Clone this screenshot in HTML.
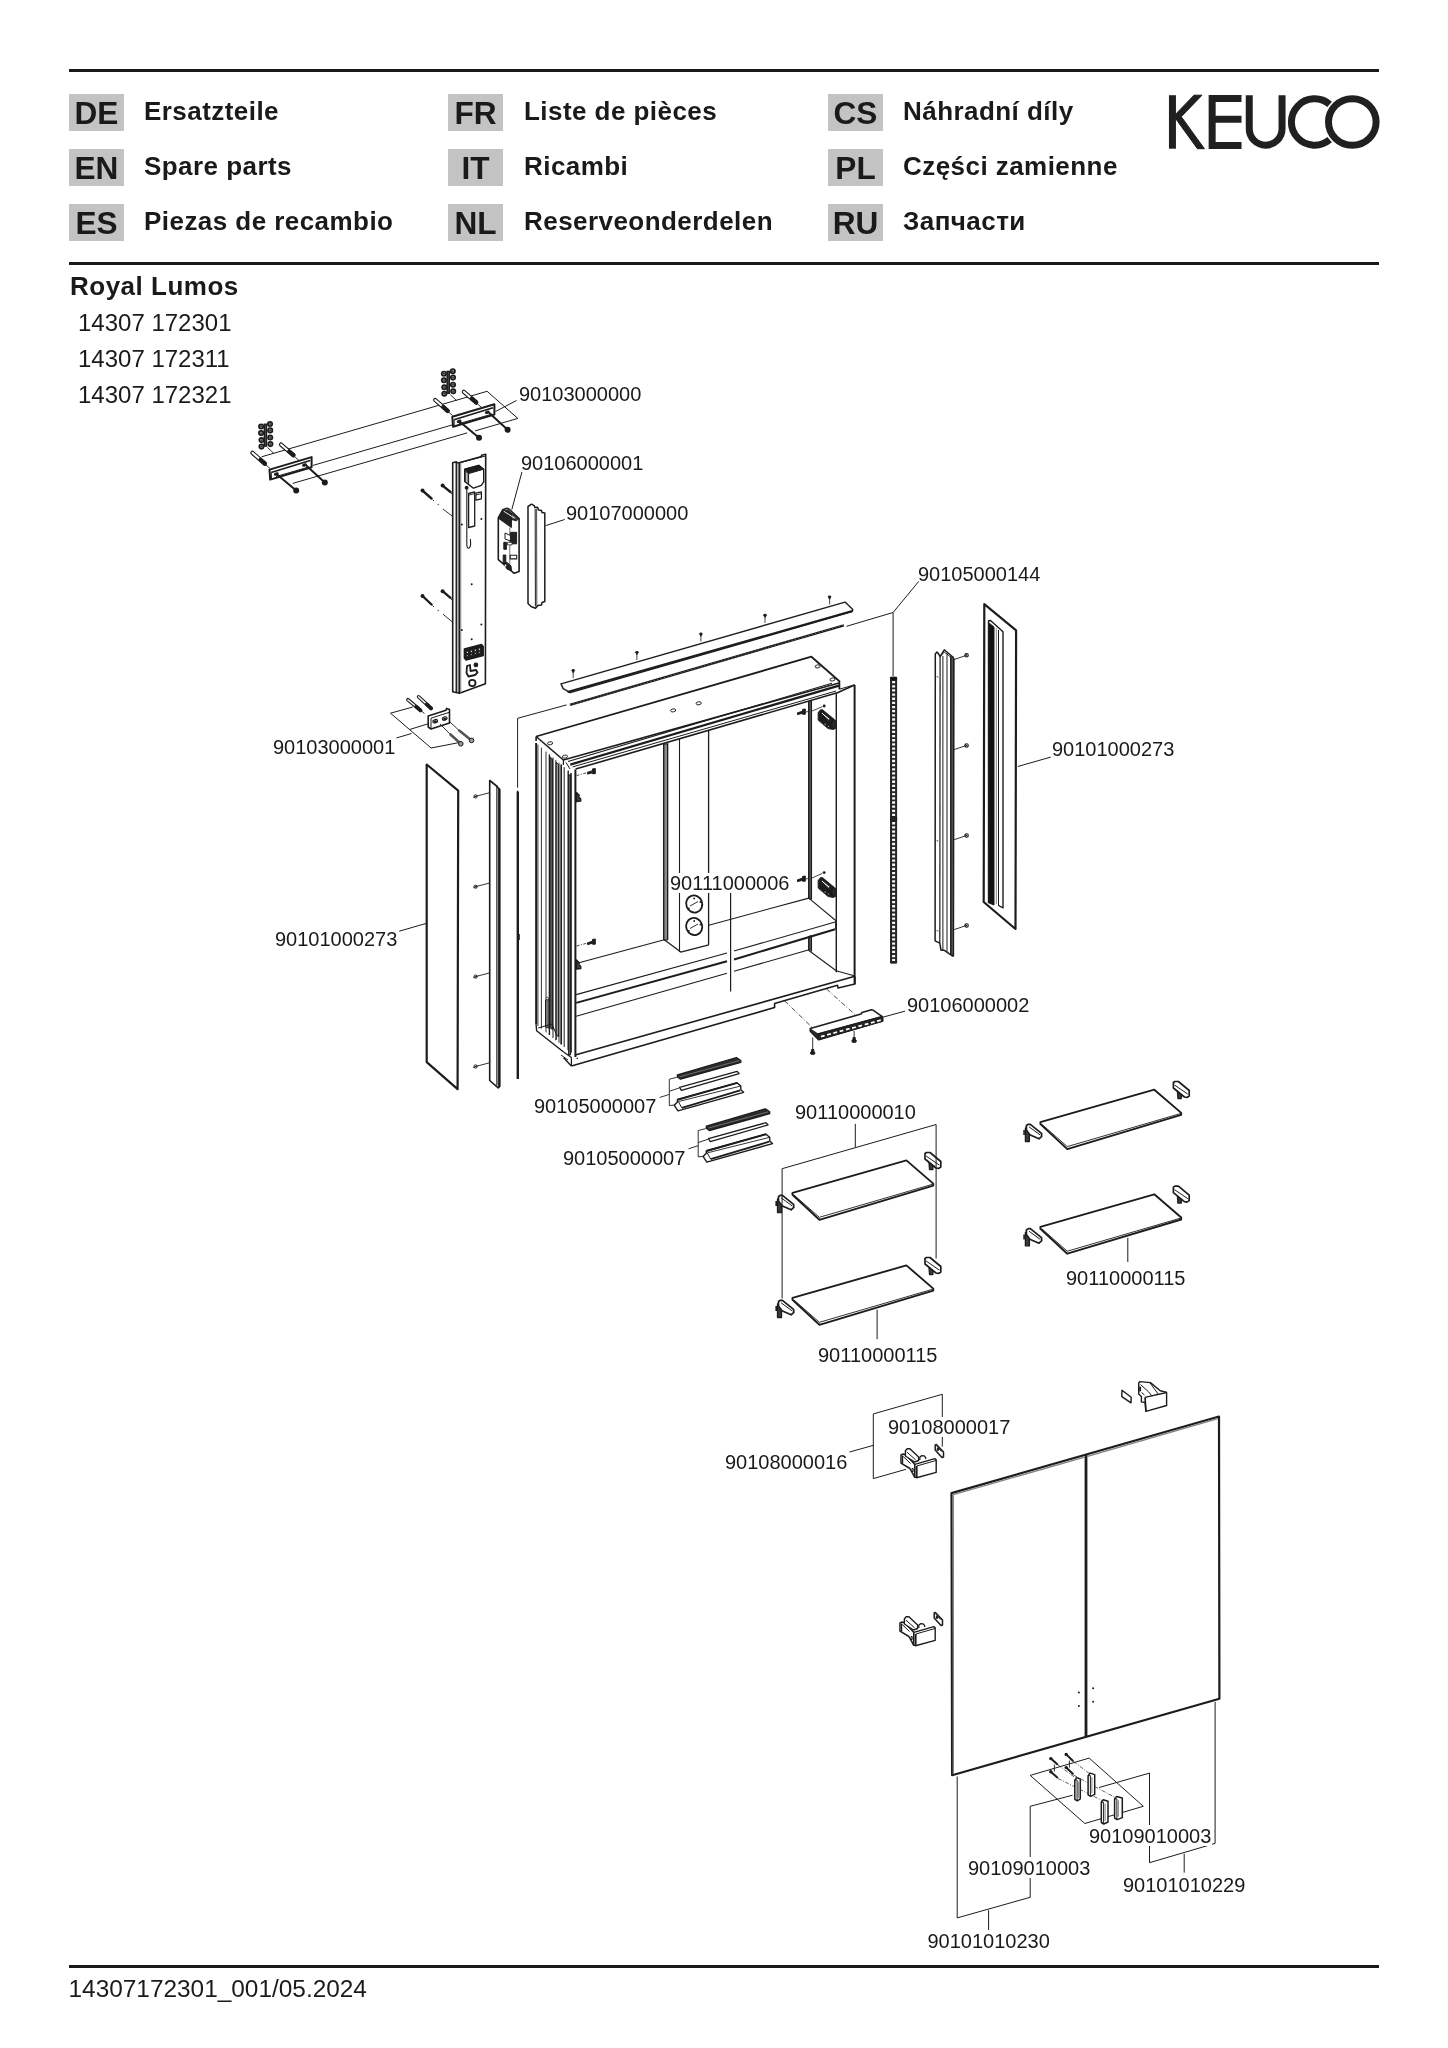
<!DOCTYPE html>
<html><head><meta charset="utf-8">
<style>
html,body{margin:0;padding:0;background:#fff;}
body{width:1448px;height:2048px;position:relative;overflow:hidden;filter:grayscale(1);font-family:"Liberation Sans",sans-serif;color:#1a1a1a;}
.hl{position:absolute;left:69px;width:1310px;height:3px;background:#1a1a1a;}
.box{position:absolute;width:55px;height:37px;background:#c3c3c3;font-weight:bold;font-size:31.6px;line-height:39px;text-align:center;color:#1a1a1a;}
.lt{position:absolute;font-weight:bold;font-size:26px;line-height:30px;letter-spacing:0.45px;white-space:nowrap;}
.t{position:absolute;white-space:nowrap;}
.num{position:absolute;font-size:20px;line-height:20px;white-space:nowrap;color:#1a1a1a;}
svg{position:absolute;left:0;top:0;}
</style></head><body>
<div class="hl" style="top:69px"></div>
<div class="hl" style="top:262px"></div>
<div class="hl" style="top:1965px"></div>

<div class="box" style="left:69px;top:94px">DE</div>
<div class="box" style="left:69px;top:149px">EN</div>
<div class="box" style="left:69px;top:204px">ES</div>
<div class="box" style="left:448px;top:94px">FR</div>
<div class="box" style="left:448px;top:149px">IT</div>
<div class="box" style="left:448px;top:204px">NL</div>
<div class="box" style="left:828px;top:94px">CS</div>
<div class="box" style="left:828px;top:149px">PL</div>
<div class="box" style="left:828px;top:204px">RU</div>

<div class="lt" style="left:144px;top:96px">Ersatzteile</div>
<div class="lt" style="left:144px;top:151px">Spare parts</div>
<div class="lt" style="left:144px;top:206px">Piezas de recambio</div>
<div class="lt" style="left:524px;top:96px">Liste de pièces</div>
<div class="lt" style="left:524px;top:151px">Ricambi</div>
<div class="lt" style="left:524px;top:206px">Reserveonderdelen</div>
<div class="lt" style="left:903px;top:96px">Náhradní díly</div>
<div class="lt" style="left:903px;top:151px">Części zamienne</div>
<div class="lt" style="left:903px;top:206px">Запчасти</div>

<div class="t" style="left:70px;top:271px;font-weight:bold;font-size:26px;letter-spacing:0.5px;">Royal Lumos</div>
<div class="t" style="left:78px;top:309px;font-size:24px;">14307 172301</div>
<div class="t" style="left:78px;top:345px;font-size:24px;">14307 172311</div>
<div class="t" style="left:78px;top:381px;font-size:24px;">14307 172321</div>

<div class="t" style="left:68.5px;top:1975px;font-size:24.4px;">14307172301_001/05.2024</div>

<!-- DRAWING START -->
<svg width="1448" height="2048" viewBox="0 0 1448 2048" style="position:absolute;left:0;top:0" stroke="#1c1c1c" stroke-linejoin="round">
<line x1="261.6" y1="456.8" x2="487.1" y2="391.3" stroke-width="1.0" />
<line x1="487.1" y1="391.3" x2="517.8" y2="418.4" stroke-width="1.0" />
<line x1="292.7" y1="483.4" x2="467.2" y2="432.9" stroke-width="1.0" />
<line x1="475.1" y1="430.9" x2="517.8" y2="418.4" stroke-width="1.0" />
<line x1="313.0" y1="465.4" x2="452.0" y2="425.0" stroke-width="1.0" />
<line x1="495.5" y1="411.5" x2="516.5" y2="400.5" stroke-width="1.0" />
<rect x="263.6" y="423.5" width="3.6" height="23.3" fill="#1c1c1c" stroke="none"/>
<line x1="265.5" y1="424.5" x2="265.5" y2="445.5" stroke-width="0.6" stroke="#666"/>
<circle cx="261.1" cy="426.5" r="2.2" stroke-width="1.7" fill="#8a8a8a" />
<circle cx="261.1" cy="426.5" r="0.7" stroke-width="0" fill="#1c1c1c" />
<circle cx="261.1" cy="433.1" r="2.2" stroke-width="1.7" fill="#8a8a8a" />
<circle cx="261.1" cy="433.1" r="0.7" stroke-width="0" fill="#1c1c1c" />
<circle cx="261.5" cy="440.1" r="2.2" stroke-width="1.7" fill="#8a8a8a" />
<circle cx="261.5" cy="440.1" r="0.7" stroke-width="0" fill="#1c1c1c" />
<circle cx="261.5" cy="446.6" r="2.2" stroke-width="1.7" fill="#8a8a8a" />
<circle cx="261.5" cy="446.6" r="0.7" stroke-width="0" fill="#1c1c1c" />
<circle cx="270.0" cy="424.0" r="2.2" stroke-width="1.7" fill="#8a8a8a" />
<circle cx="270.0" cy="424.0" r="0.7" stroke-width="0" fill="#1c1c1c" />
<circle cx="270.2" cy="430.4" r="2.2" stroke-width="1.7" fill="#8a8a8a" />
<circle cx="270.2" cy="430.4" r="0.7" stroke-width="0" fill="#1c1c1c" />
<circle cx="270.2" cy="437.5" r="2.2" stroke-width="1.7" fill="#8a8a8a" />
<circle cx="270.2" cy="437.5" r="0.7" stroke-width="0" fill="#1c1c1c" />
<circle cx="270.4" cy="444.1" r="2.2" stroke-width="1.7" fill="#8a8a8a" />
<circle cx="270.4" cy="444.1" r="0.7" stroke-width="0" fill="#1c1c1c" />
<line x1="267.5" y1="447.5" x2="274.0" y2="453.5" stroke-width="0.9" />
<line x1="252.4" y1="452.8" x2="264.8" y2="463.6" stroke-width="4.2" stroke-linecap="round"/>
<line x1="252.4" y1="452.8" x2="264.8" y2="463.6" stroke-width="2.0" stroke="#fff" stroke-linecap="round"/>
<line x1="260.5" y1="459.8" x2="264.8" y2="463.6" stroke-width="4.2" stroke-linecap="round"/>
<line x1="281.0" y1="444.6" x2="293.4" y2="455.2" stroke-width="4.2" stroke-linecap="round"/>
<line x1="281.0" y1="444.6" x2="293.4" y2="455.2" stroke-width="2.0" stroke="#fff" stroke-linecap="round"/>
<line x1="289.1" y1="451.5" x2="293.4" y2="455.2" stroke-width="4.2" stroke-linecap="round"/>
<line x1="266.0" y1="465.0" x2="270.0" y2="468.5" stroke-width="0.9" />
<line x1="294.5" y1="456.5" x2="299.0" y2="460.5" stroke-width="0.9" />
<polygon points="269.5,469.6 311.6,457.1 311.6,467.3 270.2,479.6" stroke-width="2.0" fill="#fff" />
<line x1="271.2" y1="472.6" x2="310.2" y2="460.6" stroke-width="1.6" />
<line x1="276.0" y1="476.5" x2="309.0" y2="467.0" stroke-width="1.0" />
<line x1="271.2" y1="472.6" x2="271.5" y2="478.5" stroke-width="1.0" />
<ellipse cx="276.3" cy="474.0" rx="2" ry="1.1" transform="rotate(-16 276.3 474.0)" fill="#1c1c1c"/>
<ellipse cx="304.5" cy="465.0" rx="2" ry="1.1" transform="rotate(-16 304.5 465.0)" fill="#1c1c1c"/>
<line x1="277.0" y1="474.5" x2="296.2" y2="490.6" stroke-width="2.0" stroke-linecap="round"/>
<circle cx="296.2" cy="490.6" r="3.0" stroke-width="0" fill="#1c1c1c" />
<line x1="306.5" y1="465.8" x2="324.8" y2="482.6" stroke-width="2.0" stroke-linecap="round"/>
<circle cx="324.8" cy="482.6" r="3.0" stroke-width="0" fill="#1c1c1c" />
<rect x="446.4" y="370.7" width="3.6" height="23.3" fill="#1c1c1c" stroke="none"/>
<line x1="448.3" y1="371.7" x2="448.3" y2="392.7" stroke-width="0.6" stroke="#666"/>
<circle cx="443.9" cy="373.7" r="2.2" stroke-width="1.7" fill="#8a8a8a" />
<circle cx="443.9" cy="373.7" r="0.7" stroke-width="0" fill="#1c1c1c" />
<circle cx="443.9" cy="380.3" r="2.2" stroke-width="1.7" fill="#8a8a8a" />
<circle cx="443.9" cy="380.3" r="0.7" stroke-width="0" fill="#1c1c1c" />
<circle cx="444.3" cy="387.3" r="2.2" stroke-width="1.7" fill="#8a8a8a" />
<circle cx="444.3" cy="387.3" r="0.7" stroke-width="0" fill="#1c1c1c" />
<circle cx="444.3" cy="393.8" r="2.2" stroke-width="1.7" fill="#8a8a8a" />
<circle cx="444.3" cy="393.8" r="0.7" stroke-width="0" fill="#1c1c1c" />
<circle cx="452.8" cy="371.2" r="2.2" stroke-width="1.7" fill="#8a8a8a" />
<circle cx="452.8" cy="371.2" r="0.7" stroke-width="0" fill="#1c1c1c" />
<circle cx="453.0" cy="377.6" r="2.2" stroke-width="1.7" fill="#8a8a8a" />
<circle cx="453.0" cy="377.6" r="0.7" stroke-width="0" fill="#1c1c1c" />
<circle cx="453.0" cy="384.7" r="2.2" stroke-width="1.7" fill="#8a8a8a" />
<circle cx="453.0" cy="384.7" r="0.7" stroke-width="0" fill="#1c1c1c" />
<circle cx="453.2" cy="391.3" r="2.2" stroke-width="1.7" fill="#8a8a8a" />
<circle cx="453.2" cy="391.3" r="0.7" stroke-width="0" fill="#1c1c1c" />
<line x1="450.3" y1="394.7" x2="456.8" y2="400.7" stroke-width="0.9" />
<line x1="435.2" y1="400.0" x2="447.6" y2="410.8" stroke-width="4.2" stroke-linecap="round"/>
<line x1="435.2" y1="400.0" x2="447.6" y2="410.8" stroke-width="2.0" stroke="#fff" stroke-linecap="round"/>
<line x1="443.3" y1="407.0" x2="447.6" y2="410.8" stroke-width="4.2" stroke-linecap="round"/>
<line x1="463.8" y1="391.8" x2="476.2" y2="402.4" stroke-width="4.2" stroke-linecap="round"/>
<line x1="463.8" y1="391.8" x2="476.2" y2="402.4" stroke-width="2.0" stroke="#fff" stroke-linecap="round"/>
<line x1="471.9" y1="398.7" x2="476.2" y2="402.4" stroke-width="4.2" stroke-linecap="round"/>
<line x1="448.8" y1="412.2" x2="452.8" y2="415.7" stroke-width="0.9" />
<line x1="477.3" y1="403.7" x2="481.8" y2="407.7" stroke-width="0.9" />
<polygon points="452.3,416.8 494.4,404.3 494.4,414.5 453.0,426.8" stroke-width="2.0" fill="#fff" />
<line x1="454.0" y1="419.8" x2="493.0" y2="407.8" stroke-width="1.6" />
<line x1="458.8" y1="423.7" x2="491.8" y2="414.2" stroke-width="1.0" />
<line x1="454.0" y1="419.8" x2="454.3" y2="425.7" stroke-width="1.0" />
<ellipse cx="459.1" cy="421.2" rx="2" ry="1.1" transform="rotate(-16 459.1 421.2)" fill="#1c1c1c"/>
<ellipse cx="487.3" cy="412.2" rx="2" ry="1.1" transform="rotate(-16 487.3 412.2)" fill="#1c1c1c"/>
<line x1="459.8" y1="421.7" x2="479.0" y2="437.8" stroke-width="2.0" stroke-linecap="round"/>
<circle cx="479.0" cy="437.8" r="3.0" stroke-width="0" fill="#1c1c1c" />
<line x1="489.3" y1="413.0" x2="507.6" y2="429.8" stroke-width="2.0" stroke-linecap="round"/>
<circle cx="507.6" cy="429.8" r="3.0" stroke-width="0" fill="#1c1c1c" />
<polygon points="452.7,462.8 456.5,461.8 456.5,463.5 481.5,456.5 481.5,455.2 485.7,454.2 485.4,683.8 459.5,693.2 452.7,691.8" stroke-width="1.6" fill="#fff" />
<rect x="456.3" y="463" width="3.3" height="229.5" fill="#b0b0b0"/>
<line x1="456.2" y1="463.5" x2="456.2" y2="692.5" stroke-width="1.0" />
<line x1="459.4" y1="462.8" x2="459.4" y2="693.0" stroke-width="1.6" />
<line x1="460.8" y1="462.4" x2="460.8" y2="692.8" stroke-width="0.8" stroke="#777"/>
<line x1="459.4" y1="462.8" x2="485.5" y2="456.0" stroke-width="1.0" />
<polygon points="464.7,469.2 478.8,465.3 483.7,469.2 483.7,481.9 481.3,485.3 473.4,488.2 464.7,481.4" stroke-width="1.4" fill="#fff" />
<polygon points="464.7,469.2 478.8,465.3 483.7,469.2 468.6,473.6" fill="#1c1c1c" stroke="#1c1c1c" stroke-width="1"/>
<rect x="469.0" y="469.8" width="1" height="0.8" fill="#999"/>
<rect x="472.5" y="468.8" width="1" height="0.8" fill="#999"/>
<rect x="476.0" y="467.8" width="1" height="0.8" fill="#999"/>
<rect x="471.5" y="471.6" width="1" height="0.8" fill="#999"/>
<rect x="475.0" y="470.6" width="1" height="0.8" fill="#999"/>
<rect x="478.5" y="469.6" width="1" height="0.8" fill="#999"/>
<line x1="468.6" y1="473.6" x2="468.6" y2="484.6" stroke-width="1.0" />
<polygon points="465.2,470.5 468.2,473.8 468.2,484 465.2,481.5" fill="#bbb"/>
<circle cx="466.6" cy="487.7" r="1.9" stroke-width="0" fill="#1c1c1c" />
<polygon points="468.6,493.5 474.7,491.8 474.7,526.0 468.6,527.5" stroke-width="1.3" fill="#fff" />
<line x1="468.6" y1="495.2" x2="474.7" y2="493.5" stroke-width="0.9" />
<polygon points="475.9,493.2 481.4,491.8 481.4,498.8 475.9,500.2" stroke-width="1.2" fill="#fff" />
<line x1="475.9" y1="495.0" x2="481.4" y2="493.6" stroke-width="0.9" />
<path d="M466.8,489 L466.8,545 Q467,549 469,548 Q471,547 470.6,543 L470.4,539" stroke-width="1.1" fill="none"/>
<circle cx="461.9" cy="524.5" r="1.0" stroke-width="0" fill="#1c1c1c" />
<circle cx="481.4" cy="519.0" r="1.0" stroke-width="0" fill="#1c1c1c" />
<circle cx="471.7" cy="584.3" r="1.0" stroke-width="0" fill="#1c1c1c" />
<circle cx="461.9" cy="630.1" r="1.0" stroke-width="0" fill="#1c1c1c" />
<circle cx="481.4" cy="624.6" r="1.0" stroke-width="0" fill="#1c1c1c" />
<circle cx="471.7" cy="639.3" r="1.0" stroke-width="0" fill="#1c1c1c" />
<polygon points="464.3,649.0 481.5,644.5 483.3,646.5 483.3,655.5 466.0,660.0 464.3,658.0" stroke-width="1.3" fill="#1c1c1c" />
<rect x="466.3" y="651.2" width="2.2" height="2.2" fill="#fff"/>
<rect x="466.3" y="655.0" width="2.2" height="1.6" fill="#fff"/>
<rect x="470.3" y="650.2" width="2.2" height="2.2" fill="#fff"/>
<rect x="470.3" y="654.0" width="2.2" height="1.6" fill="#fff"/>
<rect x="474.3" y="649.1" width="2.2" height="2.2" fill="#fff"/>
<rect x="474.3" y="652.9" width="2.2" height="1.6" fill="#fff"/>
<rect x="478.3" y="648.1" width="2.2" height="2.2" fill="#fff"/>
<rect x="478.3" y="651.9" width="2.2" height="1.6" fill="#fff"/>
<path d="M467,666 L470,665 L470.5,671 L476,670 L477.5,672.5 L475,675 L468.5,676.5 L466.5,673 Z" stroke-width="1.8" fill="#fff"/>
<circle cx="475.9" cy="664.9" r="1.8" stroke-width="1.1" fill="#1c1c1c" />
<circle cx="472.3" cy="683.0" r="3.2" stroke-width="1.8" fill="#fff" />
<line x1="422.5" y1="490.6" x2="431.5" y2="498.5" stroke-width="2.4" stroke-linecap="round"/>
<circle cx="422.5" cy="490.6" r="2.0" stroke-width="0" fill="#1c1c1c" />
<line x1="442.6" y1="485.6" x2="450.5" y2="492.0" stroke-width="2.4" stroke-linecap="round"/>
<circle cx="442.6" cy="485.6" r="2.0" stroke-width="0" fill="#1c1c1c" />
<line x1="422.5" y1="596.0" x2="431.5" y2="604.5" stroke-width="2.4" stroke-linecap="round"/>
<circle cx="422.5" cy="596.0" r="2.0" stroke-width="0" fill="#1c1c1c" />
<line x1="442.6" y1="591.2" x2="450.5" y2="597.8" stroke-width="2.4" stroke-linecap="round"/>
<circle cx="442.6" cy="591.2" r="2.0" stroke-width="0" fill="#1c1c1c" />
<line x1="432.5" y1="499.5" x2="434.0" y2="501.0" stroke-width="0.9" />
<line x1="443.0" y1="509.0" x2="452.7" y2="516.5" stroke-width="0.9" />
<line x1="451.0" y1="493.0" x2="452.7" y2="494.5" stroke-width="0.9" />
<line x1="432.5" y1="605.5" x2="434.0" y2="607.0" stroke-width="0.9" />
<line x1="443.0" y1="614.2" x2="452.7" y2="622.2" stroke-width="0.9" />
<line x1="451.0" y1="599.0" x2="452.7" y2="600.5" stroke-width="0.9" />
<circle cx="438.2" cy="504.5" r="0.4" stroke-width="0.6" fill="none" />
<circle cx="438.2" cy="610.5" r="0.4" stroke-width="0.6" fill="none" />
<polygon points="498.3,518.0 502.7,509.8 507.0,508.2 509.5,509.5 519.1,518.6 519.1,571.6 514.1,573.3 498.3,559.6" stroke-width="1.6" fill="#fff" />
<polygon points="498.8,518.5 502.9,510.5 508.5,510.2 511.5,513 511.4,527.5" fill="#222"/>
<polygon points="511.5,513 518.6,518.8 516.5,520.8 511.4,519.5" fill="#555"/>
<line x1="503.7" y1="511.2" x2="514.7" y2="518.2" stroke-width="1.0" stroke="#eee"/>
<line x1="509.8" y1="527.5" x2="509.8" y2="570.0" stroke-width="0.9" stroke="#666"/>
<line x1="511.4" y1="519.5" x2="519.1" y2="518.8" stroke-width="1.0" />
<rect x="510.4" y="532.3" width="6.2" height="11.5" fill="#222"/>
<polygon points="505,533 510.4,535.5 510.4,541 505,539" fill="#fff" stroke-width="1.0"/>
<rect x="503.8" y="542.3" width="2.6" height="7" fill="#222"/>
<rect x="507.5" y="542.3" width="4.5" height="2.6" fill="#fff" stroke-width="0.8"/>
<rect x="510.2" y="555.3" width="6.5" height="3.6" fill="#fff" stroke-width="1.1"/>
<rect x="503.2" y="555.0" width="2.6" height="8" fill="#222"/>
<polygon points="503.5,563 507,562.5 511,566 511.5,571 507,569" fill="#222"/>
<circle cx="505.5" cy="565.5" r="0.9" stroke-width="0" fill="#fff" />
<line x1="511.8" y1="509.6" x2="521.9" y2="472.0" stroke-width="1.0" />
<polygon points="528.0,506.5 531.5,504.2 534.2,505.6 534.8,507.5 537.5,507.3 538.5,510.0 541.5,510.5 542.0,512.5 544.8,513.0 544.8,601.5 542.0,602.5 541.5,605.0 538.0,605.5 535.5,608.2 531.0,606.5 528.0,603.5" stroke-width="1.5" fill="#fff" />
<line x1="535.2" y1="509.0" x2="535.4" y2="606.5" stroke-width="1.0" />
<line x1="536.6" y1="509.0" x2="536.8" y2="606.0" stroke-width="0.8" />
<line x1="545.8" y1="525.6" x2="564.7" y2="519.5" stroke-width="1.0" />
<polygon points="561.0,683.9 845.0,602.1 852.8,609.6 852.2,611.6 570.2,692.7 563.2,688.6" stroke-width="1.4" fill="#fff" />
<line x1="567.5" y1="692.0" x2="852.2" y2="611.0" stroke-width="1.9" />
<line x1="569.9" y1="704.9" x2="843.9" y2="625.3" stroke-width="2.4" />
<line x1="569.9" y1="704.9" x2="843.9" y2="625.3" stroke-width="0.7" stroke="#999" stroke-dasharray="1 2.5"/>
<ellipse cx="573.2" cy="670.4" rx="1.7" ry="1.4" fill="#1c1c1c" stroke="none"/><rect x="572.3" y="670.6" width="1.8" height="2.2" fill="#1c1c1c" stroke="none"/>
<line x1="573.2" y1="672.6" x2="573.2" y2="678.1" stroke-width="0.8" />
<ellipse cx="636.9" cy="652.3" rx="1.7" ry="1.4" fill="#1c1c1c" stroke="none"/><rect x="636.0" y="652.5" width="1.8" height="2.2" fill="#1c1c1c" stroke="none"/>
<line x1="636.9" y1="654.5" x2="636.9" y2="660.0" stroke-width="0.8" />
<ellipse cx="700.9" cy="633.9" rx="1.7" ry="1.4" fill="#1c1c1c" stroke="none"/><rect x="700.0" y="634.1" width="1.8" height="2.2" fill="#1c1c1c" stroke="none"/>
<line x1="700.9" y1="636.1" x2="700.9" y2="641.6" stroke-width="0.8" />
<ellipse cx="765.0" cy="615.2" rx="1.7" ry="1.4" fill="#1c1c1c" stroke="none"/><rect x="764.1" y="615.4" width="1.8" height="2.2" fill="#1c1c1c" stroke="none"/>
<line x1="765.0" y1="617.4" x2="765.0" y2="622.9" stroke-width="0.8" />
<ellipse cx="829.6" cy="596.8" rx="1.7" ry="1.4" fill="#1c1c1c" stroke="none"/><rect x="828.7" y="597.0" width="1.8" height="2.2" fill="#1c1c1c" stroke="none"/>
<line x1="829.6" y1="599.0" x2="829.6" y2="604.5" stroke-width="0.8" />
<line x1="566.6" y1="704.9" x2="517.6" y2="718.3" stroke-width="1.0" />
<line x1="517.6" y1="718.3" x2="517.6" y2="787.7" stroke-width="1.0" />
<line x1="846.5" y1="626.3" x2="893.1" y2="612.5" stroke-width="1.0" />
<line x1="893.1" y1="612.5" x2="918.7" y2="581.4" stroke-width="1.0" />
<line x1="893.1" y1="612.5" x2="893.1" y2="676.0" stroke-width="1.0" />
<line x1="517.8" y1="791.6" x2="517.8" y2="1078.9" stroke-width="2.4" />
<line x1="518.5" y1="934.0" x2="518.5" y2="940.0" stroke-width="2.6" />
<polyline points="536.1,736.5 811.4,656.7 839.4,681.3 839.4,689.2" stroke-width="1.8" fill="none" />
<polyline points="536.1,736.5 563.4,760.0 839.0,683.0" stroke-width="1.6" fill="none" />
<line x1="536.1" y1="736.5" x2="536.1" y2="741.0" stroke-width="1.6" />
<ellipse cx="550.1" cy="743.3" rx="2.6" ry="1.5" transform="rotate(-10 550.1 743.3)" stroke-width="0.9" fill="#fff"/>
<ellipse cx="565.0" cy="756.6" rx="2.6" ry="1.5" transform="rotate(-10 565.0 756.6)" stroke-width="0.9" fill="#fff"/>
<ellipse cx="673.2" cy="710.4" rx="2.6" ry="1.5" transform="rotate(-10 673.2 710.4)" stroke-width="0.9" fill="#fff"/>
<ellipse cx="698.7" cy="703.3" rx="2.6" ry="1.5" transform="rotate(-10 698.7 703.3)" stroke-width="0.9" fill="#fff"/>
<ellipse cx="817.7" cy="666.4" rx="2.6" ry="1.5" transform="rotate(-10 817.7 666.4)" stroke-width="0.9" fill="#fff"/>
<ellipse cx="832.5" cy="679.5" rx="2.6" ry="1.5" transform="rotate(-10 832.5 679.5)" stroke-width="0.9" fill="#fff"/>
<line x1="568.0" y1="761.5" x2="832.0" y2="683.2" stroke-width="1.1" />
<line x1="570.3" y1="764.6" x2="839.0" y2="685.6" stroke-width="2.2" />
<line x1="572.6" y1="766.9" x2="836.0" y2="691.0" stroke-width="1.0" />
<line x1="575.6" y1="769.1" x2="836.3" y2="693.1" stroke-width="1.6" />
<line x1="566.0" y1="762.5" x2="570.0" y2="769.0" stroke-width="1.0" />
<line x1="563.4" y1="760.0" x2="563.4" y2="765.0" stroke-width="1.2" />
<line x1="536.1" y1="743.0" x2="536.1" y2="1024.5" stroke-width="1.9" />
<line x1="537.9" y1="744.5" x2="537.9" y2="1025.9" stroke-width="0.9" />
<line x1="541.4" y1="747.6" x2="541.4" y2="1028.7" stroke-width="0.9" />
<line x1="546.0" y1="751.5" x2="546.0" y2="1032.4" stroke-width="0.9" />
<line x1="549.4" y1="754.4" x2="549.4" y2="1035.1" stroke-width="1.4" />
<line x1="553.0" y1="757.5" x2="553.0" y2="1038.0" stroke-width="1.0" />
<line x1="555.8" y1="759.9" x2="555.8" y2="1040.3" stroke-width="0.9" />
<line x1="559.0" y1="762.7" x2="559.0" y2="1042.8" stroke-width="0.9" />
<line x1="561.2" y1="764.6" x2="561.2" y2="1044.6" stroke-width="1.7" />
<line x1="564.2" y1="767.2" x2="564.2" y2="1047.0" stroke-width="1.0" />
<line x1="568.2" y1="770.6" x2="568.2" y2="1050.2" stroke-width="1.4" />
<line x1="571.0" y1="773.0" x2="571.0" y2="1052.4" stroke-width="1.6" />
<line x1="575.4" y1="769.5" x2="575.4" y2="1057.0" stroke-width="2.0" />
<polygon points="549.9,756.9 552.6,759.2 552.6,1029.7 549.9,1027.5" fill="#555"/>
<polygon points="556.2,762.3 558.6,764.4 558.6,1036.5 556.2,1034.6" fill="#9a9a9a"/>
<polygon points="545.5,1000 549,999 549,1028 545.5,1027" fill="#777"/>
<rect x="568.6" y="775" width="2" height="280" fill="#666"/>
<circle cx="547.3" cy="998.5" r="1.3" stroke-width="0.8" fill="#fff" />
<polyline points="536.1,1024.5 536.6,1030.7 563.6,1052.0" stroke-width="1.4" fill="none" />
<polyline points="563.6,1057.8 571.4,1066.1" stroke-width="1.4" fill="none" />
<polyline points="538.0,1028.0 552.0,1024.0 557.0,1036.0 556.0,1040.0" stroke-width="1.0" fill="none" />
<polyline points="563.6,1052.0 571.4,1057.5 571.4,1066.1" stroke-width="1.2" fill="none" />
<line x1="561.0" y1="1055.0" x2="568.0" y2="1060.0" stroke-width="1.0" />
<line x1="836.3" y1="693.1" x2="836.3" y2="972.3" stroke-width="1.4" />
<line x1="854.6" y1="685.0" x2="854.6" y2="984.0" stroke-width="2.0" />
<line x1="836.3" y1="693.3" x2="854.6" y2="685.0" stroke-width="1.6" />
<line x1="839.4" y1="689.2" x2="854.6" y2="684.8" stroke-width="1.0" />
<line x1="808.7" y1="701.0" x2="808.7" y2="899.0" stroke-width="1.3" />
<line x1="811.4" y1="700.2" x2="811.4" y2="899.5" stroke-width="1.3" />
<rect x="809.2" y="701" width="1.8" height="198" fill="#888"/>
<line x1="808.7" y1="936.2" x2="808.7" y2="950.0" stroke-width="1.3" />
<line x1="811.4" y1="935.5" x2="811.4" y2="951.5" stroke-width="1.3" />
<rect x="809.2" y="936" width="1.8" height="14" fill="#888"/>
<rect x="663.8" y="744" width="3.8" height="196" fill="#8a8a8a"/>
<line x1="663.6" y1="743.6" x2="663.6" y2="939.7" stroke-width="1.1" />
<line x1="667.7" y1="742.4" x2="667.7" y2="939.7" stroke-width="1.1" />
<line x1="679.5" y1="738.8" x2="679.5" y2="874.0" stroke-width="1.1" />
<line x1="679.5" y1="891.0" x2="679.5" y2="952.1" stroke-width="1.1" />
<line x1="708.6" y1="730.4" x2="708.6" y2="874.0" stroke-width="1.3" />
<line x1="708.6" y1="891.0" x2="708.6" y2="944.9" stroke-width="1.3" />
<polyline points="664.3,939.7 680.8,952.1 708.8,944.9" stroke-width="1.2" fill="none" />
<ellipse cx="694.2" cy="904.0" rx="8.0" ry="8.6" transform="rotate(-20 694.2 904.0)" stroke-width="1.8" fill="#fff"/>
<circle cx="694.2" cy="898.5" r="0.9" stroke-width="0" fill="#1c1c1c" />
<circle cx="688.8" cy="908.6" r="1.0" stroke-width="0" fill="#1c1c1c" />
<circle cx="700.5" cy="902.0" r="1.0" stroke-width="0" fill="#1c1c1c" />
<line x1="690.0" y1="906.0" x2="698.0" y2="901.5" stroke-width="0.9" />
<ellipse cx="694.2" cy="926.5" rx="8.0" ry="8.6" transform="rotate(-20 694.2 926.5)" stroke-width="1.8" fill="#fff"/>
<circle cx="694.2" cy="921.0" r="0.9" stroke-width="0" fill="#1c1c1c" />
<circle cx="688.8" cy="931.1" r="1.0" stroke-width="0" fill="#1c1c1c" />
<circle cx="700.5" cy="924.5" r="1.0" stroke-width="0" fill="#1c1c1c" />
<line x1="690.0" y1="928.5" x2="698.0" y2="924.0" stroke-width="0.9" />
<line x1="576.2" y1="963.5" x2="664.3" y2="939.7" stroke-width="1.1" />
<line x1="708.8" y1="925.2" x2="808.8" y2="898.1" stroke-width="1.1" />
<line x1="576.2" y1="994.6" x2="727.0" y2="953.0" stroke-width="1.1" />
<line x1="734.0" y1="951.0" x2="835.2" y2="922.0" stroke-width="1.1" />
<line x1="576.2" y1="1002.9" x2="727.0" y2="961.2" stroke-width="2.0" />
<line x1="734.0" y1="959.5" x2="835.2" y2="929.3" stroke-width="2.0" />
<line x1="808.8" y1="898.1" x2="835.7" y2="920.5" stroke-width="1.1" />
<line x1="835.7" y1="920.5" x2="835.7" y2="929.3" stroke-width="1.1" />
<line x1="576.2" y1="1016.3" x2="727.0" y2="973.2" stroke-width="1.1" />
<line x1="734.0" y1="971.2" x2="808.2" y2="950.0" stroke-width="1.1" />
<polyline points="808.2,950.0 836.2,970.8 854.9,976.0" stroke-width="1.1" fill="none" />
<line x1="575.2" y1="1055.0" x2="854.9" y2="976.2" stroke-width="1.6" />
<polyline points="854.9,976.2 854.9,984.0 838.1,988.0 837.5,985.3 774.6,1003.6 774.6,1007.5 571.4,1066.1" stroke-width="1.6" fill="none" />
<line x1="576.5" y1="1058.5" x2="578.0" y2="1058.2" stroke-width="1.2" />
<line x1="730.6" y1="892.0" x2="730.6" y2="991.5" stroke-width="1.2" />
<path d="M587.5,772.3 L592.5,770.7 L592.5,768.9 L595.3,768.5 L595.3,773.7 L592.5,773.7 L592.5,772.8 L587.5,774.1 Z" fill="#1c1c1c"/>
<path d="M587.5,942.8 L592.5,941.2 L592.5,939.4 L595.3,939.0 L595.3,944.2 L592.5,944.2 L592.5,943.3 L587.5,944.6 Z" fill="#1c1c1c"/>
<path d="M797.5,712.8 L802.5,711.2 L802.5,709.4 L805.3,709.0 L805.3,714.2 L802.5,714.2 L802.5,713.3 L797.5,714.6 Z" fill="#1c1c1c"/>
<path d="M797.5,879.8 L802.5,878.2 L802.5,876.4 L805.3,876.0 L805.3,881.2 L802.5,881.2 L802.5,880.3 L797.5,881.6 Z" fill="#1c1c1c"/>
<line x1="576.5" y1="775.6" x2="586.5" y2="772.8" stroke-width="0.8" stroke-dasharray="3 1.5 1 1.5"/>
<line x1="576.5" y1="946.0" x2="586.5" y2="943.3" stroke-width="0.8" stroke-dasharray="3 1.5 1 1.5"/>
<line x1="806.0" y1="712.0" x2="808.5" y2="711.4" stroke-width="0.8" />
<line x1="806.0" y1="879.0" x2="808.5" y2="878.4" stroke-width="0.8" />
<line x1="812.0" y1="711.0" x2="822.5" y2="706.6" stroke-width="0.8" />
<line x1="812.0" y1="878.0" x2="822.5" y2="873.3" stroke-width="0.8" />
<circle cx="824.2" cy="706.0" r="1.4" stroke-width="0" fill="#1c1c1c" />
<circle cx="824.2" cy="872.6" r="1.4" stroke-width="0" fill="#1c1c1c" />
<polygon points="818.1,712.6 820.5,709.7 822.5,709.7 834.5,719.6 835.6,720.6 835.6,728.6 833.0,729.6 828.0,728.6 818.1,720.1" fill="#1c1c1c" stroke-width="0.8"/>
<polygon points="821.0,713.3 822.4,712.5 830.2,718.9 829.0,720.5" fill="#fff"/>
<rect x="824.2" y="723.1" width="1.8" height="2.2" fill="#fff"/><rect x="827.6" y="725.3" width="1.8" height="1.8" fill="#fff"/><rect x="833.0" y="721.6" width="1" height="6" fill="#888"/>
<polygon points="818.1,880.5 820.5,877.6 822.5,877.6 834.5,887.5 835.6,888.5 835.6,896.5 833.0,897.5 828.0,896.5 818.1,888.0" fill="#1c1c1c" stroke-width="0.8"/>
<polygon points="821.0,881.2 822.4,880.4 830.2,886.8 829.0,888.4" fill="#fff"/>
<rect x="824.2" y="891.0" width="1.8" height="2.2" fill="#fff"/><rect x="827.6" y="893.2" width="1.8" height="1.8" fill="#fff"/><rect x="833.0" y="889.5" width="1" height="6" fill="#888"/>
<polygon points="576.5,792.5 579.5,795.5 578.5,796.5 580.8,799.0 580.8,801.0 576.5,801.5" stroke-width="1.3" fill="#444" />
<polygon points="576.5,960.0 579.5,963.0 578.5,964.0 580.8,966.5 580.8,968.5 576.5,969.0" stroke-width="1.3" fill="#444" />
<rect x="890.6" y="677.3" width="6.0" height="285.8" fill="#262626"/>
<line x1="893.6" y1="681.0" x2="893.6" y2="961.0" stroke-width="3.0" stroke="#f4f4f4" stroke-dasharray="2.3 1.85"/>
<rect x="890.6" y="677.3" width="6.0" height="3" fill="#111"/>
<rect x="890.6" y="817" width="6.0" height="4" fill="#262626"/>
<polygon points="935.3,653.9 937.0,652.0 939.0,654.5 940.1,656.7 944.3,649.8 952.5,656.7 953.9,658.8 953.4,956.1 952.7,956.1 944.0,950.2 941.0,950.2 939.8,943.1 935.1,940.8" stroke-width="1.5" fill="#fff" />
<line x1="940.1" y1="656.7" x2="939.8" y2="943.1" stroke-width="1.2" />
<line x1="942.9" y1="656.0" x2="942.9" y2="950.0" stroke-width="1.0" />
<line x1="947.0" y1="653.3" x2="947.0" y2="952.5" stroke-width="1.0" />
<line x1="950.6" y1="656.0" x2="950.6" y2="955.0" stroke-width="1.0" />
<rect x="951.0" y="657" width="2.4" height="298" fill="#555"/>
<polyline points="940.1,656.7 944.3,652.0 950.6,657.0" stroke-width="0.9" fill="none" />
<line x1="936.8" y1="676.0" x2="938.0" y2="677.5" stroke-width="0.9" />
<line x1="936.8" y1="840.0" x2="938.0" y2="841.5" stroke-width="0.9" />
<line x1="936.8" y1="930.0" x2="938.0" y2="931.5" stroke-width="0.9" />
<line x1="954.2" y1="659.5" x2="964.2" y2="656.1" stroke-width="0.9" />
<circle cx="966.6" cy="655.3" r="1.7" stroke-width="1.1" fill="#fff" />
<circle cx="966.6" cy="655.3" r="0.7" stroke-width="0" fill="#1c1c1c" />
<line x1="964.7" y1="656.5" x2="965.5" y2="653.8" stroke-width="1.0" />
<line x1="954.2" y1="749.6" x2="964.2" y2="746.2" stroke-width="0.9" />
<circle cx="966.6" cy="745.4" r="1.7" stroke-width="1.1" fill="#fff" />
<circle cx="966.6" cy="745.4" r="0.7" stroke-width="0" fill="#1c1c1c" />
<line x1="964.7" y1="746.6" x2="965.5" y2="743.9" stroke-width="1.0" />
<line x1="954.2" y1="839.7" x2="964.2" y2="836.3" stroke-width="0.9" />
<circle cx="966.6" cy="835.5" r="1.7" stroke-width="1.1" fill="#fff" />
<circle cx="966.6" cy="835.5" r="0.7" stroke-width="0" fill="#1c1c1c" />
<line x1="964.7" y1="836.7" x2="965.5" y2="834.0" stroke-width="1.0" />
<line x1="954.2" y1="929.6" x2="964.2" y2="926.2" stroke-width="0.9" />
<circle cx="966.6" cy="925.4" r="1.7" stroke-width="1.1" fill="#fff" />
<circle cx="966.6" cy="925.4" r="0.7" stroke-width="0" fill="#1c1c1c" />
<line x1="964.7" y1="926.6" x2="965.5" y2="923.9" stroke-width="1.0" />
<polygon points="984.3,604.2 1016.1,630.4 1015.5,929.0 983.7,902.0" stroke-width="2.2" fill="#fff" />
<polyline points="988.5,903.2 988.5,620.8 990.5,620.5 1003.0,631.8 1003.0,907.9 998.5,905.5" stroke-width="1.4" fill="none" />
<polygon points="989,623 994,627 994,905 989,903" fill="#111"/>
<line x1="996.3" y1="628.0" x2="996.3" y2="904.0" stroke-width="1.0" stroke="#888"/>
<line x1="998.5" y1="630.0" x2="998.5" y2="906.0" stroke-width="1.0" />
<line x1="1017.8" y1="766.5" x2="1050.7" y2="757.1" stroke-width="1.0" />
<polygon points="426.7,764.5 458.2,790.6 457.6,1089.2 426.7,1062.1" stroke-width="2.2" fill="#fff" />
<polygon points="489.7,780.5 496.0,785.5 499.8,789.6 499.8,1086.5 498.2,1087.8 489.7,1080.5" stroke-width="1.6" fill="#fff" />
<line x1="496.9" y1="785.0" x2="496.9" y2="1085.5" stroke-width="1.2" />
<line x1="498.6" y1="788.0" x2="498.6" y2="1087.0" stroke-width="1.0" />
<line x1="477.5" y1="795.9" x2="489.2" y2="792.8" stroke-width="0.9" />
<circle cx="475.6" cy="796.4" r="1.6" stroke-width="1.0" fill="#fff" />
<circle cx="475.6" cy="796.4" r="0.6" stroke-width="0" fill="#1c1c1c" />
<line x1="473.4" y1="797.5" x2="477.6" y2="795.6" stroke-width="1.0" />
<line x1="477.5" y1="886.2" x2="489.2" y2="883.1" stroke-width="0.9" />
<circle cx="475.6" cy="886.7" r="1.6" stroke-width="1.0" fill="#fff" />
<circle cx="475.6" cy="886.7" r="0.6" stroke-width="0" fill="#1c1c1c" />
<line x1="473.4" y1="887.8" x2="477.6" y2="885.9" stroke-width="1.0" />
<line x1="477.5" y1="976.1" x2="489.2" y2="973.0" stroke-width="0.9" />
<circle cx="475.6" cy="976.6" r="1.6" stroke-width="1.0" fill="#fff" />
<circle cx="475.6" cy="976.6" r="0.6" stroke-width="0" fill="#1c1c1c" />
<line x1="473.4" y1="977.7" x2="477.6" y2="975.8" stroke-width="1.0" />
<line x1="477.5" y1="1066.0" x2="489.2" y2="1062.9" stroke-width="0.9" />
<circle cx="475.6" cy="1066.5" r="1.6" stroke-width="1.0" fill="#fff" />
<circle cx="475.6" cy="1066.5" r="0.6" stroke-width="0" fill="#1c1c1c" />
<line x1="473.4" y1="1067.6" x2="477.6" y2="1065.7" stroke-width="1.0" />
<line x1="399.2" y1="931.2" x2="426.3" y2="923.4" stroke-width="1.0" />
<line x1="517.6" y1="790.6" x2="517.6" y2="792.5" stroke-width="1.0" />
<polyline points="390.5,713.2 412.8,707.0" stroke-width="1.0" fill="none" />
<polyline points="390.5,713.2 431.1,748.0 461.1,742.2" stroke-width="1.0" fill="none" />
<line x1="409.9" y1="729.4" x2="428.2" y2="723.8" stroke-width="1.0" />
<line x1="396.3" y1="738.0" x2="411.5" y2="733.5" stroke-width="1.0" />
<line x1="407.9" y1="699.7" x2="420.5" y2="710.3" stroke-width="3.6" stroke-linecap="round"/>
<line x1="407.9" y1="699.7" x2="420.5" y2="710.3" stroke-width="1.4" stroke="#fff" stroke-linecap="round"/>
<line x1="416.1" y1="706.6" x2="420.5" y2="710.3" stroke-width="3.6" stroke-linecap="round"/>
<line x1="418.6" y1="696.8" x2="431.1" y2="708.4" stroke-width="3.6" stroke-linecap="round"/>
<line x1="418.6" y1="696.8" x2="431.1" y2="708.4" stroke-width="1.4" stroke="#fff" stroke-linecap="round"/>
<line x1="426.7" y1="704.3" x2="431.1" y2="708.4" stroke-width="3.6" stroke-linecap="round"/>
<line x1="421.0" y1="710.7" x2="424.5" y2="713.6" stroke-width="0.9" />
<polygon points="428.2,716.0 446.0,710.3 446.6,708.4 449.5,709.5 449.5,722.9 431.0,729.0 428.2,727.0" stroke-width="1.6" fill="#fff" />
<line x1="431.0" y1="718.2" x2="449.0" y2="712.4" stroke-width="1.0" />
<line x1="431.0" y1="718.2" x2="431.0" y2="729.0" stroke-width="1.0" />
<ellipse cx="435.2" cy="721.2" rx="2.4" ry="1.6" transform="rotate(-20 435.2 721.2)" stroke-width="1.1" fill="#fff"/>
<ellipse cx="444.7" cy="718.6" rx="2.4" ry="1.6" transform="rotate(-20 444.7 718.6)" stroke-width="1.1" fill="#fff"/>
<ellipse cx="435.4" cy="721.6" rx="1.4" ry="0.9" fill="#1c1c1c"/><ellipse cx="444.9" cy="719" rx="1.4" ry="0.9" fill="#1c1c1c"/>
<line x1="440.0" y1="724.0" x2="450.5" y2="734.5" stroke-width="0.9" />
<line x1="449.5" y1="721.5" x2="459.2" y2="730.6" stroke-width="0.9" />
<line x1="450.5" y1="734.5" x2="460.8" y2="743.8" stroke-width="2.6" stroke="#555" stroke-linecap="round"/>
<circle cx="460.8" cy="743.8" r="2.3" stroke-width="1.0" fill="#999" />
<line x1="459.2" y1="730.6" x2="471.6" y2="740.4" stroke-width="2.6" stroke="#555" stroke-linecap="round"/>
<circle cx="471.6" cy="740.4" r="2.3" stroke-width="1.0" fill="#999" />
<polygon points="810.3,1028.6 861.0,1014.0 862.0,1012.5 871.5,1009.8 873.3,1010.3 882.7,1016.8 882.7,1021.1 818.6,1039.8 810.3,1031.1" stroke-width="1.6" fill="#fff" />
<polygon points="818,1033.9 881.4,1016.8 882.7,1021.1 818.6,1039.8" fill="#2a2a2a"/>
<polygon points="810.6,1029.2 818,1033.9 818.6,1039.8 810.6,1031.1" fill="#2a2a2a"/>
<line x1="818.0" y1="1033.9" x2="881.4" y2="1016.8" stroke-width="1.4" />
<rect x="820.0" y="1035.3" width="4.9" height="2.8" fill="#fff" transform="rotate(-15 820.0 1035.3)"/>
<rect x="826.2" y="1033.6" width="4.9" height="2.8" fill="#fff" transform="rotate(-15 826.2 1033.6)"/>
<rect x="832.5" y="1031.9" width="4.9" height="2.8" fill="#fff" transform="rotate(-15 832.5 1031.9)"/>
<rect x="838.8" y="1030.2" width="4.9" height="2.8" fill="#fff" transform="rotate(-15 838.8 1030.2)"/>
<rect x="845.0" y="1028.5" width="4.9" height="2.8" fill="#fff" transform="rotate(-15 845.0 1028.5)"/>
<rect x="851.2" y="1026.8" width="4.9" height="2.8" fill="#fff" transform="rotate(-15 851.2 1026.8)"/>
<rect x="857.5" y="1025.1" width="4.9" height="2.8" fill="#fff" transform="rotate(-15 857.5 1025.1)"/>
<rect x="863.8" y="1023.4" width="4.9" height="2.8" fill="#fff" transform="rotate(-15 863.8 1023.4)"/>
<rect x="870.0" y="1021.7" width="4.9" height="2.8" fill="#fff" transform="rotate(-15 870.0 1021.7)"/>
<rect x="876.2" y="1020.0" width="4.9" height="2.8" fill="#fff" transform="rotate(-15 876.2 1020.0)"/>
<line x1="784.4" y1="1000.6" x2="812.7" y2="1028.0" stroke-width="0.8" stroke-dasharray="5 2 1 2"/>
<line x1="826.4" y1="988.9" x2="854.7" y2="1014.3" stroke-width="0.8" stroke-dasharray="5 2 1 2"/>
<line x1="812.7" y1="1037.5" x2="812.7" y2="1050.0" stroke-width="0.9" />
<rect x="811.6" y="1049.5" width="2.2" height="2.6" fill="#1c1c1c"/><ellipse cx="812.7" cy="1053.0" rx="2.3" ry="1.5" fill="#1c1c1c"/>
<line x1="854.1" y1="1031.0" x2="854.1" y2="1038.0" stroke-width="0.9" />
<rect x="853.0" y="1037.5" width="2.2" height="2.6" fill="#1c1c1c"/><ellipse cx="854.1" cy="1041.0" rx="2.3" ry="1.5" fill="#1c1c1c"/>
<line x1="883.5" y1="1017.0" x2="905.1" y2="1011.1" stroke-width="1.0" />
<polygon points="677.4,1074.9 736.4,1057.5 740.8,1060.6 740.8,1062.4 680.5,1079.2 677.4,1077.0" stroke-width="1.3" fill="#2a2a2a" />
<line x1="679.5" y1="1076.8" x2="739.5" y2="1060.5" stroke-width="0.6" stroke="#999"/>
<polygon points="679.6,1087.3 737.1,1071.4 739.2,1073.6 681.4,1090.4" stroke-width="1.3" fill="#fff" />
<polygon points="674.3,1105.3 677.4,1102.0 677.4,1099.7 737.1,1082.9 740.8,1086.0 740.8,1089.8 743.6,1092.3 678.0,1110.9" stroke-width="1.4" fill="#fff" />
<line x1="677.4" y1="1099.7" x2="737.1" y2="1082.9" stroke-width="2.0" />
<line x1="678.3" y1="1101.6" x2="740.8" y2="1086.0" stroke-width="0.9" />
<line x1="681.8" y1="1107.8" x2="740.2" y2="1090.4" stroke-width="1.8" />
<line x1="678.3" y1="1101.6" x2="681.8" y2="1107.8" stroke-width="1.0" />
<polyline points="676.8,1077.3 669.3,1079.2 669.3,1105.6 674.3,1105.0" stroke-width="0.9" fill="none" />
<line x1="669.3" y1="1091.3" x2="679.3" y2="1087.9" stroke-width="0.9" />
<line x1="659.6" y1="1097.5" x2="669.3" y2="1094.4" stroke-width="0.9" />
<polygon points="706.3,1126.2 765.3,1108.8 769.7,1111.9 769.7,1113.7 709.4,1130.5 706.3,1128.3" stroke-width="1.3" fill="#2a2a2a" />
<line x1="708.4" y1="1128.1" x2="768.4" y2="1111.8" stroke-width="0.6" stroke="#999"/>
<polygon points="708.5,1138.6 766.0,1122.7 768.1,1124.9 710.3,1141.7" stroke-width="1.3" fill="#fff" />
<polygon points="703.2,1156.6 706.3,1153.3 706.3,1151.0 766.0,1134.2 769.7,1137.3 769.7,1141.1 772.5,1143.6 706.9,1162.2" stroke-width="1.4" fill="#fff" />
<line x1="706.3" y1="1151.0" x2="766.0" y2="1134.2" stroke-width="2.0" />
<line x1="707.2" y1="1152.9" x2="769.7" y2="1137.3" stroke-width="0.9" />
<line x1="710.7" y1="1159.1" x2="769.1" y2="1141.7" stroke-width="1.8" />
<line x1="707.2" y1="1152.9" x2="710.7" y2="1159.1" stroke-width="1.0" />
<polyline points="705.7,1128.6 698.2,1130.5 698.2,1156.9 703.2,1156.3" stroke-width="0.9" fill="none" />
<line x1="698.2" y1="1142.6" x2="708.2" y2="1139.2" stroke-width="0.9" />
<line x1="688.5" y1="1148.8" x2="698.2" y2="1145.7" stroke-width="0.9" />
<polygon points="792.5,1192.9 906.4,1160.4 933.3,1183.6 933.3,1185.6 819.4,1219.8 792.5,1194.8" stroke-width="1.9" fill="#fff" />
<polyline points="794.0,1195.0 819.4,1217.3 932.8,1184.2" stroke-width="0.9" fill="none" />
<polygon points="792.5,1297.9 906.4,1265.4 933.3,1288.6 933.3,1290.6 819.4,1324.8 792.5,1299.8" stroke-width="1.9" fill="#fff" />
<polyline points="794.0,1300.0 819.4,1322.3 932.8,1289.2" stroke-width="0.9" fill="none" />
<polygon points="777.5,1199.0 781.5,1199.0 781.5,1212.5 777.5,1212.5" stroke-width="1.3" fill="#3a3a3a" />
<polygon points="778.5,1196.5 780.4,1195.3 782.4,1195.3 793.6,1204.3 793.8,1207.3 791.1,1209.8 781.9,1205.8 778.5,1201.0" stroke-width="1.7" fill="#fff" />
<line x1="781.1" y1="1197.8" x2="792.3" y2="1206.0" stroke-width="1.0" />
<line x1="776.2" y1="1201.0" x2="776.2" y2="1206.0" stroke-width="1.6" />
<polygon points="777.5,1304.0 781.5,1304.0 781.5,1317.5 777.5,1317.5" stroke-width="1.3" fill="#3a3a3a" />
<polygon points="778.5,1301.5 780.4,1300.3 782.4,1300.3 793.6,1309.3 793.8,1312.3 791.1,1314.8 781.9,1310.8 778.5,1306.0" stroke-width="1.7" fill="#fff" />
<line x1="781.1" y1="1302.8" x2="792.3" y2="1311.0" stroke-width="1.0" />
<line x1="776.2" y1="1306.0" x2="776.2" y2="1311.0" stroke-width="1.6" />
<polygon points="929.0,1162.0 932.9,1164.0 932.9,1169.5 929.5,1169.5" stroke-width="1.3" fill="#3a3a3a" />
<polygon points="925.0,1153.5 926.5,1152.5 930.0,1152.5 940.8,1161.5 940.8,1167.0 938.5,1168.5 936.0,1168.0 925.0,1159.0" stroke-width="1.7" fill="#fff" />
<line x1="926.2" y1="1156.1" x2="939.4" y2="1165.1" stroke-width="1.0" />
<polygon points="929.0,1267.0 932.9,1269.0 932.9,1274.5 929.5,1274.5" stroke-width="1.3" fill="#3a3a3a" />
<polygon points="925.0,1258.5 926.5,1257.5 930.0,1257.5 940.8,1266.5 940.8,1272.0 938.5,1273.5 936.0,1273.0 925.0,1264.0" stroke-width="1.7" fill="#fff" />
<line x1="926.2" y1="1261.1" x2="939.4" y2="1270.1" stroke-width="1.0" />
<polygon points="1040.4,1122.2 1154.3,1089.7 1181.2,1112.9 1181.2,1114.9 1067.3,1149.1 1040.4,1124.1" stroke-width="1.9" fill="#fff" />
<polyline points="1041.9,1124.3 1067.3,1146.6 1180.7,1113.5" stroke-width="0.9" fill="none" />
<polygon points="1040.4,1226.8 1154.3,1194.3 1181.2,1217.5 1181.2,1219.5 1067.3,1253.7 1040.4,1228.7" stroke-width="1.9" fill="#fff" />
<polyline points="1041.9,1228.9 1067.3,1251.2 1180.7,1218.1" stroke-width="0.9" fill="none" />
<polygon points="1025.4,1128.0 1029.4,1128.0 1029.4,1141.5 1025.4,1141.5" stroke-width="1.3" fill="#3a3a3a" />
<polygon points="1026.4,1125.5 1028.3,1124.3 1030.3,1124.3 1041.5,1133.3 1041.7,1136.3 1039.0,1138.8 1029.8,1134.8 1026.4,1130.0" stroke-width="1.7" fill="#fff" />
<line x1="1029.0" y1="1126.8" x2="1040.2" y2="1135.0" stroke-width="1.0" />
<line x1="1024.1" y1="1130.0" x2="1024.1" y2="1135.0" stroke-width="1.6" />
<polygon points="1025.4,1232.4 1029.4,1232.4 1029.4,1245.9 1025.4,1245.9" stroke-width="1.3" fill="#3a3a3a" />
<polygon points="1026.4,1229.9 1028.3,1228.7 1030.3,1228.7 1041.5,1237.7 1041.7,1240.7 1039.0,1243.2 1029.8,1239.2 1026.4,1234.4" stroke-width="1.7" fill="#fff" />
<line x1="1029.0" y1="1231.2" x2="1040.2" y2="1239.4" stroke-width="1.0" />
<line x1="1024.1" y1="1234.4" x2="1024.1" y2="1239.4" stroke-width="1.6" />
<polygon points="1177.4,1091.0 1181.3,1093.0 1181.3,1098.5 1177.9,1098.5" stroke-width="1.3" fill="#3a3a3a" />
<polygon points="1173.4,1082.5 1174.9,1081.5 1178.4,1081.5 1189.2,1090.5 1189.2,1096.0 1186.9,1097.5 1184.4,1097.0 1173.4,1088.0" stroke-width="1.7" fill="#fff" />
<line x1="1174.6" y1="1085.1" x2="1187.8" y2="1094.1" stroke-width="1.0" />
<polygon points="1177.4,1195.6 1181.3,1197.6 1181.3,1203.1 1177.9,1203.1" stroke-width="1.3" fill="#3a3a3a" />
<polygon points="1173.4,1187.1 1174.9,1186.1 1178.4,1186.1 1189.2,1195.1 1189.2,1200.6 1186.9,1202.1 1184.4,1201.6 1173.4,1192.6" stroke-width="1.7" fill="#fff" />
<line x1="1174.6" y1="1189.7" x2="1187.8" y2="1198.7" stroke-width="1.0" />
<polyline points="782.1,1298.5 782.1,1168.7 936.1,1124.5 936.1,1258.5" stroke-width="1.0" fill="none" />
<line x1="855.3" y1="1123.8" x2="855.3" y2="1147.3" stroke-width="1.0" />
<line x1="877.1" y1="1309.6" x2="877.1" y2="1339.3" stroke-width="1.0" />
<line x1="1127.8" y1="1237.8" x2="1127.8" y2="1262.0" stroke-width="1.0" />
<polyline points="873.3,1478.6 873.3,1413.9 942.3,1394.3 942.3,1417.0" stroke-width="1.0" fill="none" />
<line x1="942.3" y1="1437.0" x2="942.3" y2="1446.6" stroke-width="1.0" />
<line x1="873.3" y1="1478.6" x2="906.0" y2="1469.3" stroke-width="1.0" />
<line x1="849.5" y1="1452.0" x2="873.3" y2="1445.4" stroke-width="1.0" />
<polygon points="901.0,1454.9 903.3,1454.0 906.0,1455.0 914.9,1464.4 914.5,1477.0 909.9,1468.5 901.0,1463.2" stroke-width="1.5" fill="#fff" />
<line x1="903.3" y1="1456.5" x2="910.5" y2="1463.5" stroke-width="1.0" />
<line x1="902.6" y1="1455.6" x2="902.6" y2="1463.5" stroke-width="1.2" />
<polygon points="905.4,1456.0 905.4,1450.8 907.2,1448.7 909.6,1448.6 918.6,1456.9 918.6,1460.5 914.5,1462.0" stroke-width="1.4" fill="#fff" />
<line x1="906.8" y1="1452.0" x2="915.6" y2="1459.8" stroke-width="1.0" />
<polyline points="919.8,1460.0 919.8,1457.2 921.5,1455.7 924.0,1455.8 925.7,1457.6 925.7,1459.0" stroke-width="1.3" fill="#fff" />
<polygon points="914.9,1464.4 934.8,1458.6 936.2,1459.8 936.2,1472.3 916.5,1477.7 914.5,1477.0" stroke-width="1.4" fill="#fff" />
<line x1="916.8" y1="1466.0" x2="936.0" y2="1460.5" stroke-width="1.0" />
<line x1="916.6" y1="1466.0" x2="916.6" y2="1477.3" stroke-width="2.0" />
<rect x="912.0" y="1468.5" width="1.2" height="3" fill="#fff"/>
<polygon points="935.2,1444.9 936.4,1444.5 943.5,1452.0 943.5,1457.0 942.0,1457.6 935.2,1449.9" stroke-width="1.5" fill="#fff" />
<line x1="936.8" y1="1446.3" x2="941.5" y2="1451.5" stroke-width="1.0" />
<rect x="937.2" y="1448.5" width="1.5" height="1.8" fill="#1c1c1c"/>
<polygon points="900.0,1622.9 902.3,1622.0 905.0,1623.0 913.9,1632.4 913.5,1645.0 908.9,1636.5 900.0,1631.2" stroke-width="1.5" fill="#fff" />
<line x1="902.3" y1="1624.5" x2="909.5" y2="1631.5" stroke-width="1.0" />
<line x1="901.6" y1="1623.6" x2="901.6" y2="1631.5" stroke-width="1.2" />
<polygon points="904.4,1624.0 904.4,1618.8 906.2,1616.7 908.6,1616.6 917.6,1624.9 917.6,1628.5 913.5,1630.0" stroke-width="1.4" fill="#fff" />
<line x1="905.8" y1="1620.0" x2="914.6" y2="1627.8" stroke-width="1.0" />
<polyline points="918.8,1628.0 918.8,1625.2 920.5,1623.7 923.0,1623.8 924.7,1625.6 924.7,1627.0" stroke-width="1.3" fill="#fff" />
<polygon points="913.9,1632.4 933.8,1626.6 935.2,1627.8 935.2,1640.3 915.5,1645.7 913.5,1645.0" stroke-width="1.4" fill="#fff" />
<line x1="915.8" y1="1634.0" x2="935.0" y2="1628.5" stroke-width="1.0" />
<line x1="915.6" y1="1634.0" x2="915.6" y2="1645.3" stroke-width="2.0" />
<rect x="911.0" y="1636.5" width="1.2" height="3" fill="#fff"/>
<polygon points="934.2,1612.9 935.4,1612.5 942.5,1620.0 942.5,1625.0 941.0,1625.6 934.2,1617.9" stroke-width="1.5" fill="#fff" />
<line x1="935.8" y1="1614.3" x2="940.5" y2="1619.5" stroke-width="1.0" />
<rect x="936.2" y="1616.5" width="1.5" height="1.8" fill="#1c1c1c"/>
<polygon points="1138.7,1383.0 1139.8,1381.6 1150.4,1382.6 1160.3,1390.7 1166.1,1392.1 1166.6,1392.5 1166.6,1405.5 1145.9,1411.4 1145.2,1402.5 1141.4,1401.9 1141.4,1396.5 1138.7,1393.9" stroke-width="1.4" fill="#fff" />
<polyline points="1145.0,1397.4 1166.6,1392.5" stroke-width="1.4" fill="none" />
<line x1="1145.0" y1="1397.4" x2="1145.9" y2="1411.4" stroke-width="1.6" />
<line x1="1140.5" y1="1384.5" x2="1148.5" y2="1391.8" stroke-width="1.0" />
<line x1="1148.5" y1="1391.8" x2="1152.0" y2="1396.0" stroke-width="1.0" />
<line x1="1150.0" y1="1383.0" x2="1158.5" y2="1394.5" stroke-width="1.0" />
<line x1="1141.5" y1="1392.5" x2="1144.5" y2="1395.0" stroke-width="1.0" />
<rect x="1139.3" y="1387" width="1.3" height="4" fill="#777"/>
<polygon points="1122.0,1390.3 1131.2,1397.3 1131.0,1402.8 1121.8,1396.6" stroke-width="1.4" fill="#fff" />
<polygon points="951.5,1493.1 1219.0,1416.5 1219.4,1698.8 952.1,1775.2" stroke-width="2.2" fill="#fff" />
<line x1="1086.0" y1="1455.0" x2="1086.0" y2="1736.5" stroke-width="2.8" />
<line x1="953.3" y1="1494.6" x2="1084.5" y2="1457.1" stroke-width="1.4" stroke="#808080"/>
<line x1="1087.5" y1="1456.3" x2="1217.9" y2="1418.6" stroke-width="1.4" stroke="#808080"/>
<line x1="953.3" y1="1494.6" x2="953.3" y2="1773.8" stroke-width="1.3" stroke="#808080"/>
<circle cx="1078.9" cy="1692.4" r="1.0" stroke-width="0" fill="#1c1c1c" />
<circle cx="1078.9" cy="1706.0" r="1.0" stroke-width="0" fill="#1c1c1c" />
<circle cx="1093.1" cy="1688.2" r="1.0" stroke-width="0" fill="#1c1c1c" />
<circle cx="1093.1" cy="1701.8" r="1.0" stroke-width="0" fill="#1c1c1c" />
<polyline points="957.2,1776.5 957.2,1917.9 1030.2,1897.3 1030.2,1876.0" stroke-width="1.0" fill="none" />
<polyline points="1030.2,1857.0 1030.2,1806.3 1072.6,1795.2" stroke-width="1.0" fill="none" />
<line x1="988.6" y1="1910.2" x2="988.6" y2="1930.0" stroke-width="1.0" />
<polyline points="1215.1,1701.8 1215.1,1843.4 1149.5,1862.7 1149.5,1843.0" stroke-width="1.0" fill="none" />
<polyline points="1149.5,1825.0 1149.5,1773.1 1099.1,1787.5" stroke-width="1.0" fill="none" />
<line x1="1184.2" y1="1853.8" x2="1184.2" y2="1872.6" stroke-width="1.0" />
<polygon points="1030.2,1775.4 1089.2,1758.1 1143.3,1806.3 1084.8,1823.5" stroke-width="1.0" fill="none" />
<line x1="1050.8" y1="1758.6" x2="1057.3" y2="1764.3" stroke-width="2.0" stroke-linecap="round"/>
<circle cx="1050.8" cy="1758.6" r="1.7" stroke-width="0" fill="#1c1c1c" />
<line x1="1066.2" y1="1754.4" x2="1072.8" y2="1760.8" stroke-width="2.0" stroke-linecap="round"/>
<circle cx="1066.2" cy="1754.4" r="1.7" stroke-width="0" fill="#1c1c1c" />
<line x1="1050.8" y1="1771.8" x2="1057.3" y2="1777.4" stroke-width="2.0" stroke-linecap="round"/>
<circle cx="1050.8" cy="1771.8" r="1.7" stroke-width="0" fill="#1c1c1c" />
<line x1="1066.2" y1="1767.6" x2="1072.8" y2="1773.8" stroke-width="2.0" stroke-linecap="round"/>
<circle cx="1066.2" cy="1767.6" r="1.7" stroke-width="0" fill="#1c1c1c" />
<line x1="1054.4" y1="1764.5" x2="1054.4" y2="1771.5" stroke-width="0.9" />
<line x1="1069.4" y1="1760.5" x2="1069.4" y2="1767.5" stroke-width="0.9" />
<line x1="1058.0" y1="1765.0" x2="1077.0" y2="1779.0" stroke-width="0.7" stroke-dasharray="4 1.5 1 1.5"/>
<line x1="1073.5" y1="1761.5" x2="1090.0" y2="1774.0" stroke-width="0.7" stroke-dasharray="4 1.5 1 1.5"/>
<line x1="1058.0" y1="1778.5" x2="1103.0" y2="1801.0" stroke-width="0.7" stroke-dasharray="4 1.5 1 1.5"/>
<line x1="1073.5" y1="1775.0" x2="1116.0" y2="1798.0" stroke-width="0.7" stroke-dasharray="4 1.5 1 1.5"/>
<polygon points="1074.8,1780.1 1076.8,1777.6 1080.3,1779.1 1080.3,1798.8 1077.3,1800.8 1074.8,1799.3" stroke-width="1.5" fill="#fff" />
<line x1="1077.1" y1="1780.1" x2="1077.1" y2="1800.3" stroke-width="1.0" />
<line x1="1074.8" y1="1780.1" x2="1077.1" y2="1780.1" stroke-width="1.0" />
<line x1="1078.6" y1="1781.6" x2="1078.6" y2="1797.8" stroke-width="0.8" stroke="#666"/>
<polygon points="1088.1,1775.6 1090.1,1773.1 1094.7,1774.6 1094.7,1794.4 1090.6,1796.4 1088.1,1794.9" stroke-width="1.5" fill="#fff" />
<line x1="1090.4" y1="1775.6" x2="1090.4" y2="1795.9" stroke-width="1.0" />
<line x1="1088.1" y1="1775.6" x2="1090.4" y2="1775.6" stroke-width="1.0" />
<line x1="1091.9" y1="1777.1" x2="1091.9" y2="1793.4" stroke-width="0.8" stroke="#666"/>
<polygon points="1101.3,1802.2 1103.3,1799.7 1108.0,1801.2 1108.0,1822.0 1103.8,1824.0 1101.3,1822.5" stroke-width="1.5" fill="#fff" />
<line x1="1103.6" y1="1802.2" x2="1103.6" y2="1823.5" stroke-width="1.0" />
<line x1="1101.3" y1="1802.2" x2="1103.6" y2="1802.2" stroke-width="1.0" />
<line x1="1105.1" y1="1803.7" x2="1105.1" y2="1821.0" stroke-width="0.8" stroke="#666"/>
<polygon points="1114.6,1798.9 1116.6,1796.4 1122.3,1797.9 1122.3,1817.6 1117.1,1819.6 1114.6,1818.1" stroke-width="1.5" fill="#fff" />
<line x1="1116.9" y1="1798.9" x2="1116.9" y2="1819.1" stroke-width="1.0" />
<line x1="1114.6" y1="1798.9" x2="1116.9" y2="1798.9" stroke-width="1.0" />
<line x1="1118.4" y1="1800.4" x2="1118.4" y2="1816.6" stroke-width="0.8" stroke="#666"/>
<g stroke="#231f20" fill="none" stroke-width="7" stroke-linejoin="miter" stroke-linecap="butt"><path d="M1172.45,95.2 V148.7"/><path d="M1241.5,98.45 H1212.15 V145.45 H1241.5 M1212.15,119.3 H1241.5"/><path d="M1249.25,95.2 V128.8 A16.4,16.4 0 0 0 1282.05,128.8 V95.2"/><path d="M1329.6,104.3 A23.2,23.2 0 1 0 1329.6,139.7"/><ellipse cx="1352.3" cy="122" rx="23.8" ry="23.3"/></g>
<polygon points="1194.0,95.2 1202.0,95.2 1181.27,116.68 1204.4,148.7 1197.4,148.7 1175.9,118.94 1175.9,113.95" fill="#231f20"/>
</svg>
<!-- DRAWING END -->

<!-- part numbers -->
<div class="num" style="left:519px;top:384px">90103000000</div>
<div class="num" style="left:521px;top:453px">90106000001</div>
<div class="num" style="left:566px;top:503px">90107000000</div>
<div class="num" style="left:918px;top:564px">90105000144</div>
<div class="num" style="left:1052px;top:739px">90101000273</div>
<div class="num" style="left:273px;top:737px">90103000001</div>
<div class="num" style="left:670px;top:873px;background:#fff;padding:0 1px;margin-left:-1px">90111000006</div>
<div class="num" style="left:275px;top:929px">90101000273</div>
<div class="num" style="left:907px;top:995px">90106000002</div>
<div class="num" style="left:534px;top:1096px">90105000007</div>
<div class="num" style="left:795px;top:1102px">90110000010</div>
<div class="num" style="left:563px;top:1148px">90105000007</div>
<div class="num" style="left:1066px;top:1268px">90110000115</div>
<div class="num" style="left:818px;top:1345px">90110000115</div>
<div class="num" style="left:888px;top:1417px;background:#fff;padding:0 1px;margin-left:-1px">90108000017</div>
<div class="num" style="left:725px;top:1452px">90108000016</div>
<div class="num" style="left:1089px;top:1826px;background:#fff;padding:0 1px;margin-left:-1px">90109010003</div>
<div class="num" style="left:968px;top:1858px;background:#fff;padding:0 1px;margin-left:-1px">90109010003</div>
<div class="num" style="left:1123px;top:1875px">90101010229</div>
<div class="num" style="left:927.5px;top:1931px">90101010230</div>

</body></html>
